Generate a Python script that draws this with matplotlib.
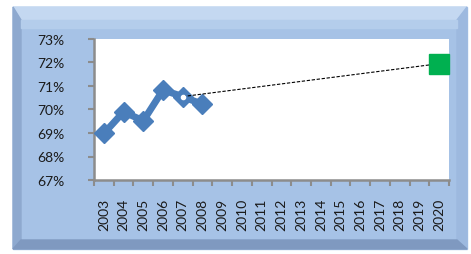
import numpy as np
import matplotlib.pyplot as plt
from matplotlib.patches import Polygon, Rectangle
from matplotlib.ticker import FixedLocator, FuncFormatter

# data
years = [str(y) for y in range(2003, 2021)]
actual = [0.6898, 0.6990, 0.6952, 0.7083, 0.7055, 0.7022]   # 2003-2008
target_year = 17       # index of 2020
target = 0.7195
trend_start = 4        # index of 2007

plt.rcParams['font.family'] = ['Lato', 'DejaVu Sans']

fig = plt.figure(figsize=(4.71, 2.55), dpi=100)
fig.patch.set_facecolor('white')

# bevelled frame drawn in pixel coordinates
bg = fig.add_axes([0, 0, 1, 1])
bg.set_xlim(0, 471)
bg.set_ylim(255, 0)
bg.axis('off')
ox0, oy0, ox1, oy1 = 13, 8, 467, 250
ix0, iy0, ix1, iy1 = 21, 21, 457, 241
bg.add_patch(Rectangle((ox0, oy0), ox1 - ox0, oy1 - oy0, color='#a6c2e6'))
bg.add_patch(Polygon([(ox0, oy0), (ox1, oy0), (ix1, iy0), (ix0, iy0)], color='#c4d8f1'))
bg.add_patch(Polygon([(ox0, oy0), (ix0, iy0), (ix0, iy1), (ox0, oy1)], color='#8ea9cf'))
bg.add_patch(Polygon([(ox1, oy0), (ox1, oy1), (ix1, iy1), (ix1, iy0)], color='#9db9df'))
bg.add_patch(Polygon([(ox0, oy1), (ix0, iy1), (ix1, iy1), (ox1, oy1)], color='#7f99c0'))
bg.add_patch(Rectangle((ix0, iy0), ix1 - ix0, 8, color='#b4cdeb'))

ax = fig.add_axes([94 / 471, 1 - 181 / 255, 355 / 471, 141 / 255])
ax.set_facecolor('white')

x = np.arange(len(years))
ax.plot(x[:len(actual)], actual, color='#4a7ebb', lw=5, marker='D', ms=10,
        solid_joinstyle='round', zorder=3)
ax.plot([x[trend_start], x[target_year]], [actual[trend_start], target],
        color='black', lw=0.8, ls=(0, (3, 1.5)), zorder=4)
ax.plot([x[trend_start]], [actual[trend_start]], 'o', color='white', ms=3, zorder=5)
ax.plot([x[target_year]], [target], 's', color='#00b050', ms=14.5, zorder=5,
        clip_on=False)

ax.set_xlim(-0.5, len(years) - 0.5)
ax.set_ylim(0.67, 0.73)
ax.yaxis.set_major_locator(FixedLocator(np.arange(0.67, 0.7301, 0.01)))
ax.yaxis.set_major_formatter(FuncFormatter(lambda v, p: '%d%%' % round(v * 100)))

ax.xaxis.set_major_locator(FixedLocator(np.arange(-0.5, len(years), 1.0)))
ax.xaxis.set_major_formatter(FuncFormatter(lambda v, p: ''))
ax.set_xticks(x, minor=True)
ax.set_xticklabels(years, minor=True, rotation=90, fontsize=10, color='#1a1a1a')
ax.tick_params(axis='x', which='minor', length=0, pad=13)
ax.tick_params(axis='x', which='major', length=4, width=1.5, color='#8c8c8c')
ax.tick_params(axis='y', length=4, width=1.5, color='#8c8c8c', pad=17,
               labelsize=10, labelcolor='#1a1a1a')

for s in ['top', 'right']:
    ax.spines[s].set_visible(False)
for s in ['left', 'bottom']:
    ax.spines[s].set_color('#8c8c8c')
    ax.spines[s].set_linewidth(1.8)

fig.savefig('out.png', dpi=100)
